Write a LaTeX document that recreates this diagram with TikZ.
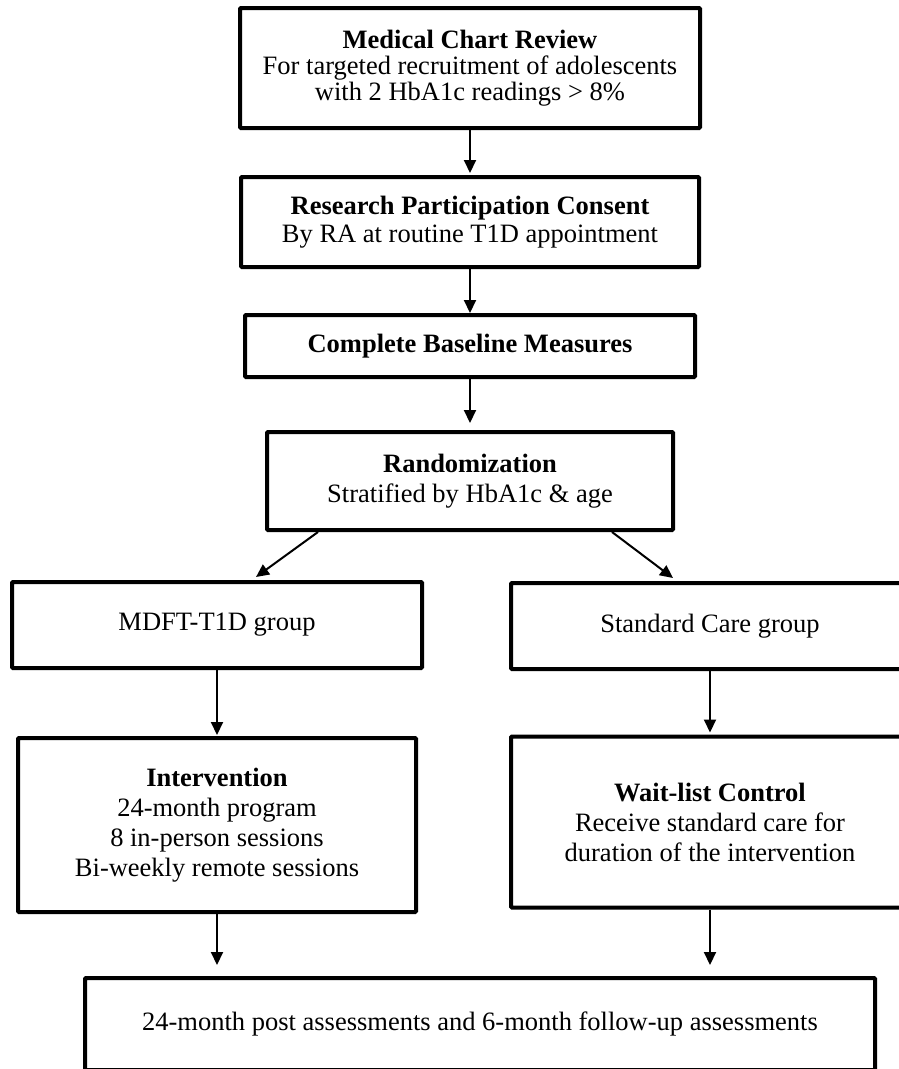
\documentclass[tikz,border=0pt]{standalone}
\usepackage{fontspec}
\setmainfont{Liberation Serif}
\usetikzlibrary{arrows.meta,calc}
\begin{document}
\begin{tikzpicture}[x=1pt,y=-1pt,
  box/.style={draw, line width=4pt, align=center, inner sep=0pt, rounded corners=1pt},
  txt/.style={font=\fontsize{26.5}{#1}\selectfont},
  arr/.style={-{Triangle[length=13pt,width=12pt]}, line width=2pt}]
\useasboundingbox (0,0) rectangle (899,1069);
\clip (0,0) rectangle (899,1069);
\node[box, txt=26, minimum width=460pt, minimum height=120pt] (b1) at (470,68)
  {\textbf{Medical Chart Review}\\For targeted recruitment of adolescents\\with 2 HbA1c readings > 8\%};
\node[box, txt=28, minimum width=458pt, minimum height=90pt] (b2) at (470,222)
  {\textbf{Research Participation Consent}\\By RA at routine T1D appointment};
\node[box, txt=28, minimum width=450pt, minimum height=62pt] (b3) at (470,346)
  {\textbf{Complete Baseline Measures}};
\node[box, txt=30, minimum width=406pt, minimum height=98pt] (b4) at (470,481)
  {\textbf{Randomization}\\Stratified by HbA1c \& age};
\node[box, txt=30, minimum width=410pt, minimum height=86pt] (b5) at (217,625)
  {MDFT-T1D group};
\node[box, txt=30, minimum width=398pt, minimum height=86pt] (b6) at (710,626)
  {Standard Care group};
\node[box, txt=30, minimum width=398pt, minimum height=174pt] (b7) at (217,825)
  {\textbf{Intervention}\\24-month program\\8 in-person sessions\\Bi-weekly remote sessions};
\node[box, txt=30, minimum width=398pt, minimum height=171pt] (b8) at (710,822)
  {\textbf{Wait-list Control}\\Receive standard care for\\duration of the intervention};
\node[box, txt=30, minimum width=790pt, minimum height=92pt] (b9) at (480,1024)
  {24-month post assessments and 6-month follow-up assessments};
\draw[arr, shorten >=2pt] (b1.south) -- (b2.north);
\draw[arr] (b2.south) -- (b3.north);
\draw[arr, shorten >=7pt] (b3.south) -- (b4.north);
\draw[arr] ([xshift=53pt]b4.south west) -- ([xshift=246pt,yshift=3pt]b5.north west);
\draw[arr] ([xshift=-63pt]b4.south east) -- ([xshift=164pt,yshift=3pt]b6.north west);
\draw[arr, shorten >=1pt] (b5.south) -- (b7.north);
\draw[arr, shorten >=2pt] (b6.south) -- (b8.north);
\draw[arr, shorten >=11pt] (b7.south) -- (b7.south |- b9.north);
\draw[arr, shorten >=11pt] (b8.south) -- (b8.south |- b9.north);
\end{tikzpicture}
\end{document}
